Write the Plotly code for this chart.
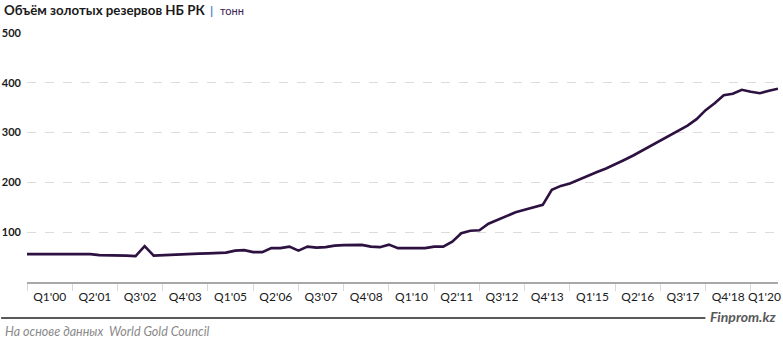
import plotly.graph_objects as go

# Quarterly gold reserves of the National Bank of Kazakhstan, tonnes (Q1'00 .. Q4'20)
quarters = [f"Q{q}'{y:02d}" for y in range(0, 21) for q in range(1, 5)]
reserves = [
    56, 56, 56.5, 57, 57, 57, 57, 56,          # 2000-2001
    54, 54, 53.5, 53, 52, 72, 53, 54,          # 2002-2003
    54.5, 55, 56, 57, 57.5, 58, 59, 63,        # 2004-2005
    64, 60, 60, 68, 68, 71, 63, 71,            # 2006-2007
    69, 70, 73, 74, 74, 74.5, 71, 70,          # 2008-2009
    75, 68, 68, 68, 68, 71, 71, 81,            # 2010-2011
    98, 103, 104, 117, 125, 133, 140, 145,     # 2012-2013
    150, 155, 185, 193, 198, 206, 214, 221,    # 2014-2015
    228, 236, 245, 254, 264, 273, 283, 293,    # 2016-2017
    303, 314, 327, 345, 359, 375, 378, 386,    # 2018-2019
    382, 379, 384, 388,                        # 2020
]

# Axis labels every fifth quarter, centred in their five-quarter span
label_text = ["Q1'00", "Q2'01", "Q3'02", "Q4'03", "Q1'05", "Q2'06", "Q3'07", "Q4'08",
              "Q1'10", "Q2'11", "Q3'12", "Q4'13", "Q1'15", "Q2'16", "Q3'17", "Q4'18", "Q1'20"]
y_ticks = [100, 200, 300, 400, 500]

W, H = 783, 343
ML, MR, MT, MB = 26, 2, 33, 61
PW, PH = W - ML - MR, H - MT - MB

x_idx = list(range(len(reserves)))
last = len(reserves) - 1
label_pos = [min(quarters.index(t) + 2.5, (quarters.index(t) + last) / 2) for t in label_text]


def px_x(p):
    return (p - ML) / PW


def px_y(p):
    return 1 - (p - MT) / PH


LINE = "#2d1140"
FONT = "Lato, 'Open Sans', sans-serif"

fig = go.Figure(
    go.Scatter(
        x=x_idx, y=reserves, mode="lines",
        line=dict(color=LINE, width=2.6),
        hoverinfo="skip", showlegend=False, cliponaxis=False,
    )
)

fig.update_layout(
    width=W, height=H,
    margin=dict(l=ML, r=MR, t=MT, b=MB, pad=0),
    paper_bgcolor="white", plot_bgcolor="white",
    font=dict(family=FONT, color="#1a1a1a"),
    xaxis=dict(
        range=[0, last], fixedrange=True,
        tickmode="array", tickvals=label_pos, ticktext=label_text,
        ticks="", showgrid=False, zeroline=False,
        showline=True, linecolor="#a8a8a8", linewidth=2,
        tickfont=dict(size=12, color="#1a1a1a"),
        ticklabelstandoff=3, ticklabeloverflow="allow",
        minor=dict(tickmode="linear", tick0=0, dtick=5, ticks="outside",
                   ticklen=7, tickwidth=1, tickcolor="#d9d9d9", showgrid=False),
    ),
    yaxis=dict(
        range=[0, 500], fixedrange=True,
        tickmode="array", tickvals=y_ticks, ticktext=[str(v) for v in y_ticks],
        ticks="", showline=False, zeroline=False,
        showgrid=True, gridcolor="#dcdcdc", gridwidth=1, griddash="dash",
        tickfont=dict(size=11, color="#1a1a1a", weight="bold"),
        ticklabelstandoff=5,
    ),
)

# Title and unit
fig.add_annotation(
    text="<b>Объём золотых резервов НБ РК</b>", xref="paper", yref="paper",
    x=px_x(1), y=px_y(10), xanchor="left", yanchor="middle", showarrow=False,
    font=dict(size=13.3, color="#1a1a1a", family=FONT),
)
fig.add_annotation(
    text="<b>|</b>", xref="paper", yref="paper",
    x=px_x(211), y=px_y(10.5), xanchor="center", yanchor="middle", showarrow=False,
    font=dict(size=12, color="#4a86c8", family=FONT),
)
fig.add_annotation(
    text="тонн", xref="paper", yref="paper",
    x=px_x(218), y=px_y(10.5), xanchor="left", yanchor="middle", showarrow=False,
    font=dict(size=11, color="#3b2150", family=FONT),
)

# Footer rule, source note and brand
fig.add_shape(
    type="line", xref="paper", yref="paper",
    x0=px_x(0), x1=px_x(708), y0=px_y(318), y1=px_y(318),
    line=dict(color="#595959", width=2.2),
)
fig.add_annotation(
    text="<b><i>Finprom.kz</i></b>", xref="paper", yref="paper",
    x=px_x(781), y=px_y(316.5), xanchor="right", yanchor="middle", showarrow=False,
    font=dict(size=14, color="#595959", family=FONT),
)
fig.add_annotation(
    text="<i>На основе данных  World Gold Council</i>", xref="paper", yref="paper",
    x=px_x(2), y=px_y(331), xanchor="left", yanchor="middle", showarrow=False,
    font=dict(size=12.5, color="#8a8a8a", family=FONT),
)

fig.write_html("out.html", config={"displayModeBar": False})
